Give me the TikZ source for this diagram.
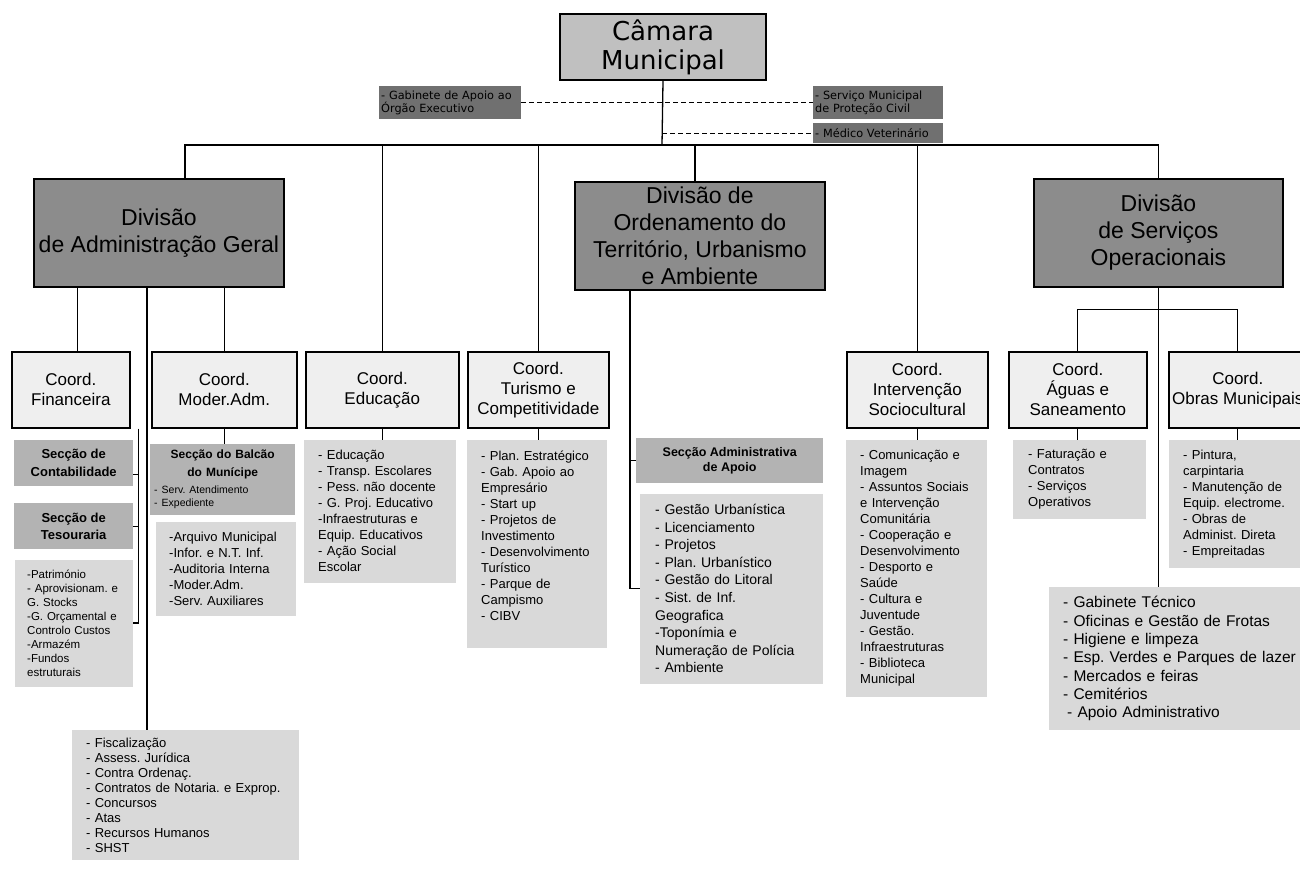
\documentclass[tikz,border=0pt]{standalone}
\usepackage{fontspec}
\setmainfont{Liberation Sans}
\newfontfamily\djv{DejaVu Sans}
\usetikzlibrary{positioning}
\frenchspacing

\definecolor{topgray}{HTML}{C0C0C0}
\definecolor{divgray}{HTML}{8C8C8C}
\definecolor{coordgray}{HTML}{EFEFEF}
\definecolor{secgray}{HTML}{B3B3B3}
\definecolor{listgray}{HTML}{D9D9D9}
\definecolor{gabgray}{HTML}{707070}

\begin{document}
\begin{tikzpicture}[
        x=1pt, y=-1pt,
        topbox/.style={draw, line width=1.5pt, fill=topgray, align=center, inner sep=0pt, font=\djv\fontsize{26}{29}\selectfont},
        divbox/.style={draw, line width=1.8pt, fill=divgray, align=center, anchor=north west, inner sep=0pt, minimum height=108pt, font=\fontsize{23}{27}\selectfont},
        coordbox/.style={draw, line width=1.6pt, fill=coordgray, align=center, anchor=north west, inner sep=0pt, minimum height=76pt, font=\fontsize{17}{20}\selectfont},
        secbox/.style={fill=secgray, align=center, anchor=north west, inner sep=0pt, font=\bfseries\fontsize{13}{17.5}\selectfont},
        listbox/.style={fill=listgray, align=left, anchor=north west, inner xsep=14pt, inner ysep=8pt, font=\fontsize{13}{16}\selectfont},
        gabbox/.style={fill=gabgray, align=left, anchor=north west, inner xsep=2pt, inner ysep=0pt, font=\djv\fontsize{11.3}{13.3}\selectfont},
        link/.style={line width=1.3pt},
        dashlink/.style={line width=1.3pt, dash pattern=on 5pt off 3pt}
    ]
        \path[use as bounding box, fill=white] (0,0) rectangle (1300,870);

        % Top
        \node[topbox, minimum width=206pt, minimum height=66pt] (camara) at (663,47) {Câmara\\Municipal};
        \node[gabbox, text width=138pt, minimum height=33pt] (gab) at (379,86) {- Gabinete de Apoio ao\\Órgão Executivo};
        \node[gabbox, text width=126pt, minimum height=33pt] (prot) at (813,86) {- Serviço Municipal\\de Proteção Civil};
        \node[gabbox, text width=126pt, minimum height=20pt] (vet) at (813,123) {- Médico Veterinário};

        % Divisions
        \node[divbox, minimum width=250pt] (divadm) at (33,178) {Divisão\\de Administração Geral};
        \node[divbox, minimum width=250pt] (divord) at (574,181) {Divisão de\\Ordenamento do\\Território, Urbanismo\\e Ambiente};
        \node[divbox, minimum width=249pt] (divserv) at (1033,178) {Divisão\\de Serviços\\Operacionais};

        % Coordinations
        \node[coordbox, minimum width=118pt] (coordfin) at (11,351) {Coord.\\Financeira};
        \node[coordbox, minimum width=145pt] (coordmod) at (151,351) {Coord.\\Moder.Adm.};
        \node[coordbox, minimum width=153pt] (coordedu) at (305,351) {Coord.\\Educação};
        \node[coordbox, minimum width=141pt] (coordtur) at (467,351) {Coord.\\Turismo e\\Competitividade};
        \node[coordbox, minimum width=141pt] (coordint) at (846,351) {Coord.\\Intervenção\\Sociocultural};
        \node[coordbox, minimum width=138pt] (coordagu) at (1008,351) {Coord.\\Águas e\\Saneamento};
        \node[coordbox, minimum width=138pt] (coordobr) at (1168,351) {Coord.\\Obras Municipais};

        % Financeira
        \node[secbox, minimum width=119pt, minimum height=46pt, below right=11pt and 3pt of coordfin.south west] (secconta) {Secção de\\Contabilidade};
        \node[secbox, minimum width=119pt, minimum height=46pt, below right=17pt and 0pt of secconta.south west] (secteso) {Secção de\\Tesouraria};
        \node[listbox, inner xsep=12pt, text width=94pt, minimum height=127pt, font=\fontsize{11.5}{14}\selectfont, below right=10pt and 1pt of secteso.south west] (listfin) {-Património\\- Aprovisionam. e\\G. Stocks\\-G. Orçamental e\\Controlo Custos\\-Armazém\\-Fundos\\estruturais};

        % Moder.Adm.
        \node[secbox, text width=137pt, inner xsep=4pt, minimum height=71pt, font=\bfseries\fontsize{12}{17.5}\selectfont, below right=15pt and -1pt of coordmod.south west] (secbalcao) {Secção do Balcão\\do Munícipe\\\parbox[t]{137pt}{\raggedright\mdseries\fontsize{10.5}{13}\selectfont - Serv. Atendimento\\- Expediente}};
        \node[listbox, inner xsep=13pt, text width=114pt, minimum height=94pt, below right=7pt and 6pt of secbalcao.south west] (listmod) {-Arquivo Municipal\\-Infor. e N.T. Inf.\\-Auditoria Interna\\-Moder.Adm.\\-Serv. Auxiliares};

        % Fiscalizacao
        \node[listbox, inner ysep=5pt, text width=199pt, minimum height=130pt, font=\fontsize{13}{15}\selectfont] (listfis) at (72,730) {- Fiscalização\\- Assess. Jurídica\\- Contra Ordenaç.\\- Contratos de Notaria. e Exprop.\\- Concursos\\- Atas\\- Recursos Humanos\\- SHST};

        % Educacao, Turismo
        \node[listbox, text width=124pt, minimum height=143pt, below right=11pt and -1pt of coordedu.south west] (listedu) {- Educação\\- Transp. Escolares\\- Pess. não docente\\- G. Proj. Educativo\\-Infraestruturas e\\Equip. Educativos\\- Ação Social\\Escolar};
        \node[listbox, text width=112pt, minimum height=208pt, below right=11pt and 0pt of coordtur.south west] (listtur) {- Plan. Estratégico\\- Gab. Apoio ao\\Empresário\\- Start up\\- Projetos de\\Investimento\\- Desenvolvimento\\Turístico\\- Parque de\\Campismo\\- CIBV\\\mbox{}};

        % Ordenamento
        \node[secbox, minimum width=187pt, minimum height=45pt, font=\bfseries\fontsize{12.5}{14.5}\selectfont] (secadm) at (636,438) {Secção Administrativa\\de Apoio};
        \node[listbox, inner xsep=15pt, text width=153pt, minimum height=190pt, font=\fontsize{14}{17.6}\selectfont, below right=10pt and 4pt of secadm.south west] (listord) {- Gestão Urbanística\\- Licenciamento\\- Projetos\\- Plan. Urbanístico\\- Gestão do Litoral\\- Sist. de Inf.\\Geografica\\-Toponímia e\\Numeração de Polícia\\- Ambiente};

        % Intervencao, Aguas, Obras
        \node[listbox, text width=113pt, minimum height=257pt, below right=11pt and 0pt of coordint.south west] (listint) {- Comunicação e\\Imagem\\- Assuntos Sociais\\e Intervenção\\Comunitária\\- Cooperação e\\Desenvolvimento\\- Desporto e\\Saúde\\- Cultura e\\Juventude\\- Gestão.\\Infraestruturas\\- Biblioteca\\Municipal};
        \node[listbox, inner xsep=15pt, text width=103pt, minimum height=79pt, below right=11pt and 5pt of coordagu.south west] (listagu) {- Faturação e\\Contratos\\- Serviços\\Operativos};
        \node[listbox, text width=115pt, minimum height=128pt, below right=11pt and 1pt of coordobr.south west] (listobr) {- Pintura,\\carpintaria\\- Manutenção de\\Equip. electrome.\\- Obras de\\Administ. Direta\\- Empreitadas};
        \node[listbox, text width=235pt, minimum height=143pt, font=\fontsize{15.5}{18.3}\selectfont] (listgab) at (1049,587) {- Gabinete Técnico\\- Oficinas e Gestão de Frotas\\- Higiene e limpeza\\- Esp. Verdes e Parques de lazer\\- Mercados e feiras\\- Cemitérios\\\hspace*{4pt}- Apoio Administrativo};

        % Connections from the top
        \coordinate (bus) at (662,145);
        \draw[link] (camara.south) -- (bus);
        \draw[dashlink] (gab.east) -- (prot.west);
        \draw[dashlink] (vet.west -| bus) -- (vet.west);
        \draw[link] ([xshift=26pt]divadm.north) |- (bus) -| (divserv.north);
        \draw[link] (coordedu.north) -- (coordedu.north |- bus);
        \draw[link] (coordtur.north) -- (coordtur.north |- bus);
        \draw[link] ([xshift=-5pt]divord.north) -- ([xshift=-5pt]divord.north |- bus);
        \draw[link] (coordint.north) -- (coordint.north |- bus);

        % Administracao Geral branch
        \draw[link] ([xshift=7pt]coordfin.north) -- ([xshift=7pt]coordfin.north |- divadm.south);
        \draw[link] (coordmod.north) -- (coordmod.north |- divadm.south);
        \draw[link] ([xshift=-12pt]divadm.south) -- ([xshift=-12pt]divadm.south |- listfis.north);
        \draw[link] (coordmod.south) -- (coordmod.south |- secbalcao.north);
        \coordinate (finbus) at ([xshift=8pt]coordfin.south east);
        \draw[link] (finbus) |- (listfin.east);
        \draw[link] ([yshift=-12pt]secconta.east) -- ([yshift=-12pt]secconta.east -| finbus);
        \draw[link] (secteso.east) -- (secteso.east -| finbus);

        % Ordenamento branch
        \coordinate (ordbus) at ([xshift=-70pt]divord.south);
        \draw[link] (ordbus) |- (listord.west);
        \draw[link] (secadm.west) -- (secadm.west -| ordbus);

        % Coordinations to lists
        \draw[link] (coordedu.south) -- (coordedu.south |- listedu.north);
        \draw[link] (coordtur.south) -- (coordtur.south |- listtur.north);
        \draw[link] (coordint.south) -- (coordint.south |- listint.north);
        \draw[link] (coordagu.south) -- (coordagu.south |- listagu.north);
        \draw[link] (coordobr.south) -- (coordobr.south |- listobr.north);

        % Servicos Operacionais branch
        \draw[link] (divserv.south) -- (divserv.south |- listgab.north);
        \coordinate (servbus) at ([yshift=-22pt]divserv.south);
        \draw[link] (coordagu.north) |- (servbus) -| (coordobr.north);

    \end{tikzpicture}
\end{document}
